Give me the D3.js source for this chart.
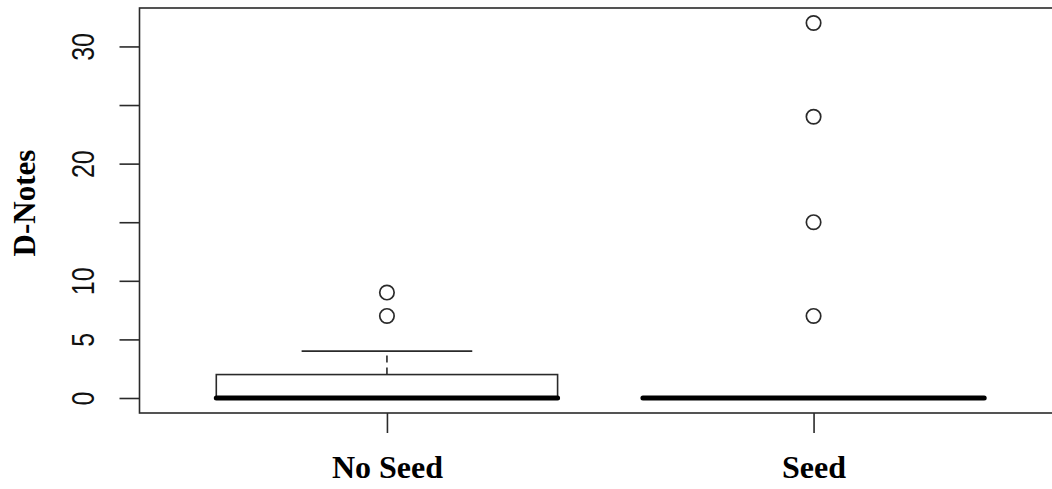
<!DOCTYPE html>
<html>
<head>
<meta charset="utf-8">
<script src="https://cdn.jsdelivr.net/npm/d3@7"></script>
<style>
  body { margin: 0; background: #fff; }
  svg { display: block; overflow: hidden; }
</style>
</head>
<body>
<svg width="1052" height="489"></svg>
<script>
// data
const categories = ['No Seed', 'Seed'];
// [lower whisker, q1, median, q3, upper whisker]
const noSeedStats = [0, 0, 0, 2, 4];
const seedStats = [0, 0, 0, 0, 0];
const noSeedOutliers = [7, 9];
const seedOutliers = [7, 15, 24, 32];
const yTicks = [0, 5, 10, 15, 20, 25, 30];
const yTickLabels = ['0', '5', '10', '', '20', '', '30'];

const groups = [
  { name: categories[0], s: noSeedStats, out: noSeedOutliers },
  { name: categories[1], s: seedStats, out: seedOutliers },
];

const svg = d3.select('svg');
const plotLeft = 139.5, plotTop = 8, plotBottom = 413, plotRight = 1061;

// R style ranges: 4% padding on both sides
const x = d3.scaleLinear().domain([0.42, 2.58]).range([plotLeft, plotRight]);
const y = d3.scaleLinear().domain([-1.28, 33.28]).range([plotBottom, plotTop]);

const boxHalf = 0.4;   // boxwex 0.8
const capHalf = 0.2;   // staplewex 0.5
const ink = '#2a2a2a';

groups.forEach((g, i) => {
  const cx = i + 1;
  const [lo, q1, med, q3, hi] = g.s;
  const gg = svg.append('g');

  // whiskers (dashed)
  if (hi > q3) {
    gg.append('line')
      .attr('x1', x(cx)).attr('x2', x(cx))
      .attr('y1', y(q3)).attr('y2', y(hi))
      .attr('stroke', ink).attr('stroke-width', 1.6)
      .attr('stroke-dasharray', '7,5');
    gg.append('line')
      .attr('x1', x(cx - capHalf)).attr('x2', x(cx + capHalf))
      .attr('y1', y(hi)).attr('y2', y(hi))
      .attr('stroke', ink).attr('stroke-width', 1.6);
  }
  if (lo < q1) {
    gg.append('line')
      .attr('x1', x(cx)).attr('x2', x(cx))
      .attr('y1', y(q1)).attr('y2', y(lo))
      .attr('stroke', ink).attr('stroke-width', 1.6)
      .attr('stroke-dasharray', '7,5');
    gg.append('line')
      .attr('x1', x(cx - capHalf)).attr('x2', x(cx + capHalf))
      .attr('y1', y(lo)).attr('y2', y(lo))
      .attr('stroke', ink).attr('stroke-width', 1.6);
  }

  // box
  gg.append('rect')
    .attr('x', x(cx - boxHalf))
    .attr('width', x(cx + boxHalf) - x(cx - boxHalf))
    .attr('y', y(q3))
    .attr('height', y(q1) - y(q3))
    .attr('fill', 'none')
    .attr('stroke', ink).attr('stroke-width', 1.6);

  // median
  gg.append('line')
    .attr('x1', x(cx - boxHalf)).attr('x2', x(cx + boxHalf))
    .attr('y1', y(med)).attr('y2', y(med))
    .attr('stroke', '#000').attr('stroke-width', 5)
    .attr('stroke-linecap', 'round');

  // outliers
  gg.selectAll('circle')
    .data(g.out)
    .join('circle')
    .attr('cx', x(cx))
    .attr('cy', d => y(d))
    .attr('r', 7.2)
    .attr('fill', 'none')
    .attr('stroke', ink)
    .attr('stroke-width', 1.7);
});

// plot frame
svg.append('rect')
  .attr('x', plotLeft).attr('y', plotTop)
  .attr('width', plotRight - plotLeft).attr('height', plotBottom - plotTop)
  .attr('fill', 'none')
  .attr('stroke', ink).attr('stroke-width', 1.6);

// y axis
const yAxis = svg.append('g')
  .attr('transform', `translate(${plotLeft},0)`)
  .call(d3.axisLeft(y)
    .tickValues(yTicks)
    .tickSize(20)
    .tickFormat((d, i) => yTickLabels[i]));
yAxis.select('.domain').remove();
yAxis.selectAll('.tick line').attr('stroke', ink).attr('stroke-width', 1.6);
yAxis.selectAll('.tick text')
  .attr('x', null).attr('dy', null)
  .attr('text-anchor', 'middle')
  .attr('transform', 'translate(-46,0) rotate(-90) scale(1,1.25)')
  .attr('fill', '#111')
  .style('font-family', '"Liberation Sans", Arial, sans-serif')
  .style('font-size', '25px');

// x axis
const xAxis = svg.append('g')
  .attr('transform', `translate(0,${plotBottom})`)
  .call(d3.axisBottom(x)
    .tickValues([1, 2])
    .tickSize(20)
    .tickFormat((d, i) => categories[i]));
xAxis.select('.domain').remove();
xAxis.selectAll('.tick line').attr('stroke', ink).attr('stroke-width', 1.6);
xAxis.selectAll('.tick text')
  .attr('y', 65).attr('dy', null)
  .attr('fill', '#000')
  .style('font-family', '"Liberation Serif", "Times New Roman", serif')
  .style('font-weight', 'bold')
  .style('font-size', '32px');

// y title
svg.append('text')
  .attr('transform', 'translate(35,203) rotate(-90)')
  .attr('text-anchor', 'middle')
  .style('font-family', '"Liberation Serif", "Times New Roman", serif')
  .style('font-weight', 'bold')
  .style('font-size', '31px')
  .text('D-Notes');
</script>
</body>
</html>
